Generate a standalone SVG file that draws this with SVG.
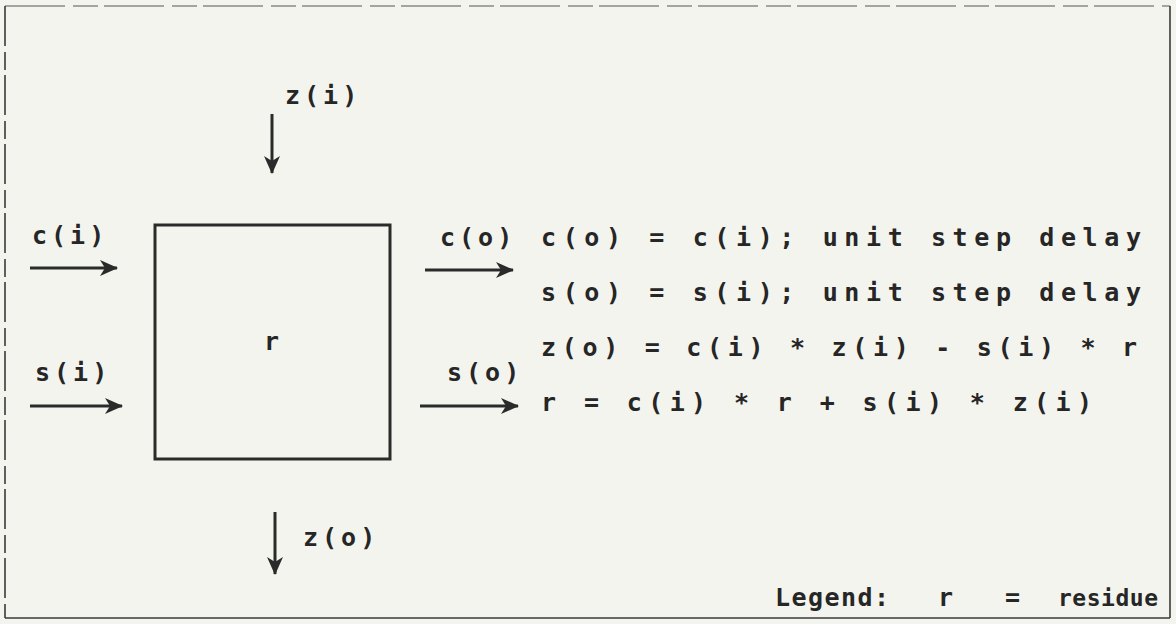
<svg xmlns="http://www.w3.org/2000/svg" width="1176" height="624" viewBox="0 0 1176 624">
  <style>
    .t { font-family: "DejaVu Sans Mono", "Liberation Mono", monospace; font-weight: bold; font-size: 25px; fill: #262626; letter-spacing: 4px; }
    .ln { stroke: #2a2a2a; stroke-width: 3; fill: none; }
    .frame { stroke: #3a3a3a; stroke-width: 1.6; fill: none; }
  </style>
  <defs>
    <marker id="ah" viewBox="0 0 18 16" refX="17" refY="8" markerWidth="18" markerHeight="16" markerUnits="userSpaceOnUse" orient="auto">
      <path d="M0,0 L18,8 L0,16 L5,8 Z" fill="#2a2a2a"/>
    </marker>
  </defs>
  <rect width="1176" height="624" fill="#f4f4ee"/>

  <!-- outer frame -->
  <g id="frame">
    <line x1="5" y1="6" x2="1170" y2="6" stroke="#555" stroke-width="1.2" stroke-dasharray="60 8 25 6"/>
    <line x1="5" y1="6" x2="5" y2="618" class="frame" stroke-dasharray="40 6 18 5"/>
    <line x1="1170" y1="6" x2="1170" y2="618" class="frame"/>
    <line x1="5" y1="618" x2="1170" y2="618" class="frame"/>
  </g>

  <!-- processing cell -->
  <g id="cell">
    <rect x="155" y="225" width="235" height="234" class="ln"/>
    <text x="264" y="350" class="t">r</text>
  </g>

  <!-- connectors -->
  <g id="connectors">
    <line x1="30" y1="268" x2="117" y2="268" class="ln" marker-end="url(#ah)"/>
    <line x1="30" y1="406" x2="122" y2="406" class="ln" marker-end="url(#ah)"/>
    <line x1="425" y1="270" x2="513" y2="270" class="ln" marker-end="url(#ah)"/>
    <line x1="420" y1="406" x2="518" y2="406" class="ln" marker-end="url(#ah)"/>
    <line x1="272" y1="114" x2="272" y2="173" class="ln" marker-end="url(#ah)"/>
    <line x1="275" y1="512" x2="275" y2="574" class="ln" marker-end="url(#ah)"/>
  </g>

  <!-- port labels -->
  <g id="labels">
    <text x="285" y="104" class="t">z(i)</text>
    <text x="32" y="244" class="t">c(i)</text>
    <text x="35" y="381" class="t">s(i)</text>
    <text x="440" y="246" class="t">c(o)</text>
    <text x="447" y="381" class="t">s(o)</text>
    <text x="303" y="546" class="t">z(o)</text>
  </g>

  <!-- cell equations -->
  <g id="equations">
    <text x="541" y="246" class="t" textLength="604">c(o) = c(i); unit step delay</text>
    <text x="541" y="301" class="t" textLength="604">s(o) = s(i); unit step delay</text>
    <text x="541" y="356" class="t" textLength="600">z(o) = c(i) * z(i) - s(i) * r</text>
    <text x="541" y="411" class="t" textLength="555">r = c(i) * r + s(i) * z(i)</text>
  </g>

  <!-- legend -->
  <g id="legend">
    <text x="775" y="606" class="t" textLength="118">Legend:</text>
    <text x="938" y="606" class="t">r</text>
    <text x="1005" y="606" class="t">=</text>
    <text x="1058" y="606" class="t" style="font-size:23px;letter-spacing:0" textLength="100">residue</text>
  </g>
</svg>
